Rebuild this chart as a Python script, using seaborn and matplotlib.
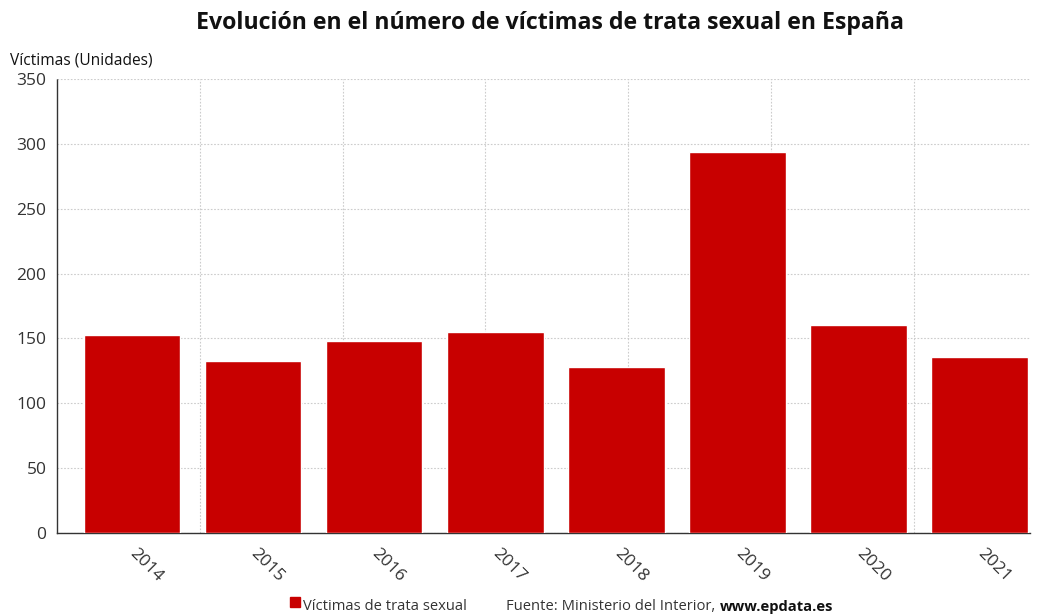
import pandas as pd
import seaborn as sns
import matplotlib.pyplot as plt
import matplotlib.transforms as mtransforms
from matplotlib.patches import Rectangle
from matplotlib.ticker import FixedLocator

# Data
years = ["2014", "2015", "2016", "2017", "2018", "2019", "2020", "2021"]
victims = [153, 133, 148, 155, 128, 294, 160, 136]
y_ticks = [0, 50, 100, 150, 200, 250, 300, 350]

df = pd.DataFrame({"year": years, "victims": victims})

sns.set_style("white")
plt.rcParams["font.family"] = ["Open Sans", "DejaVu Sans"]

fig = plt.figure(figsize=(10.44, 6.16), dpi=100)
ax = fig.add_axes([0.0546, 0.1347, 0.932, 0.737])

sns.barplot(data=df, x="year", y="victims", color="#C80000", width=0.8,
            saturation=1, ax=ax, zorder=3)

ax.set_xlim(-0.62, len(years) - 0.58)
ax.set_ylim(0, 350)
ax.set_yticks(y_ticks)

# vertical grid in the original doesn't follow the categories
ax.xaxis.set_minor_locator(FixedLocator([-0.62 + k * 1.18 for k in range(1, 7)]))
ax.grid(axis="y", which="major", color="#cccccc", linestyle=(0, (1.5, 1.5)), linewidth=0.8, zorder=0)
ax.grid(axis="x", which="minor", color="#cccccc", linestyle=(0, (1.5, 1.5)), linewidth=0.8, zorder=0)
ax.tick_params(axis="x", which="minor", length=0)

for side in ["top", "right"]:
    ax.spines[side].set_visible(False)
for side in ["left", "bottom"]:
    ax.spines[side].set_color("#333333")
    ax.spines[side].set_linestyle((0, (1.5, 1)))
    ax.spines[side].set_linewidth(1.0)

ax.tick_params(axis="both", which="major", length=4, width=1, color="#555555",
               labelsize=12.5, labelcolor="#333333", direction="out")
ax.tick_params(axis="x", pad=5)
shift = mtransforms.ScaledTranslation(6 / 100, 0, fig.dpi_scale_trans)
for lbl in ax.get_xticklabels():
    lbl.set_rotation(-45)
    lbl.set_ha("left")
    lbl.set_va("top")
    lbl.set_rotation_mode("anchor")
    lbl.set_transform(lbl.get_transform() + shift)
ax.set_xlabel("")
ax.set_ylabel("")

fig.text(0.527, 0.963, "Evolución en el número de víctimas de trata sexual en España",
         ha="center", va="center", fontsize=16.7, fontweight="bold", color="#111111")
fig.text(0.0096, 0.901, "Víctimas (Unidades)", ha="left", va="center",
         fontsize=11.2, color="#111111")

# bottom legend + source
y_leg = 0.004
fig.patches.append(Rectangle((290 / 1044, 0.0145), 10 / 1044, 10 / 616,
                             transform=fig.transFigure, color="#C80000"))
fig.text(303 / 1044, y_leg, "Víctimas de trata sexual", ha="left", va="bottom",
         fontsize=10.6, color="#333333")
src = fig.text(0.485, y_leg, "Fuente: Ministerio del Interior, ", ha="left", va="bottom",
               fontsize=10.6, color="#333333")
fig.canvas.draw()
bb = src.get_window_extent().transformed(fig.transFigure.inverted())
fig.text(bb.x1, y_leg, "www.epdata.es", ha="left", va="bottom",
         fontsize=10.6, fontweight="bold", color="#111111")

plt.savefig("out.png", dpi=100)
